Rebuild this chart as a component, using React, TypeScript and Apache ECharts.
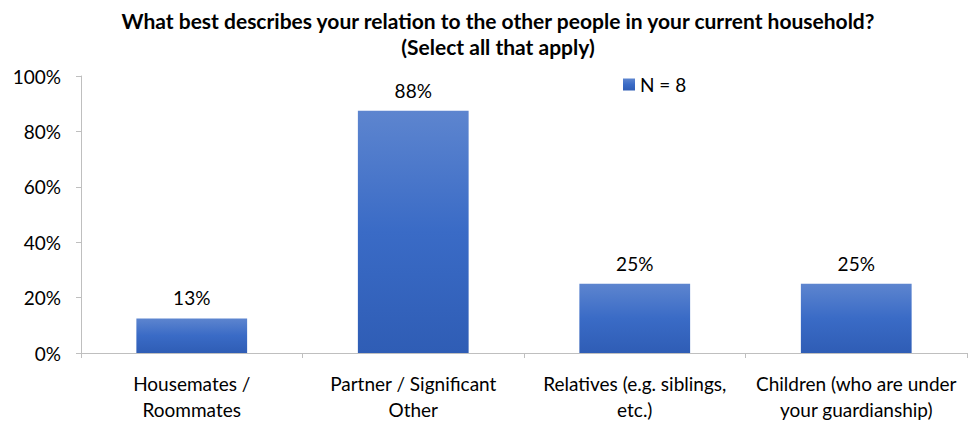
import React, { useEffect, useRef } from "react";
import * as echarts from "echarts";

const categories = [
  "Housemates /\nRoommates",
  "Partner / Significant\nOther",
  "Relatives (e.g. siblings,\netc.)",
  "Children (who are under\nyour guardianship)",
];
const values = [12.5, 87.5, 25, 25];
const seriesName = "N = 8";
const titleLines = [
  "What best describes your relation to the other people in your current household?",
  "(Select all that apply)",
];

const FONT = "Lato, 'Open Sans', sans-serif";

export default function App() {
  const ref = useRef<HTMLDivElement>(null);
  useEffect(() => {
    if (!ref.current) return;
    const chart = echarts.init(ref.current, undefined, { renderer: "svg" });
    const grad = new echarts.graphic.LinearGradient(0, 0, 0, 1, [
      { offset: 0, color: "#5d85cf" },
      { offset: 0.5, color: "#3a6bc6" },
      { offset: 1, color: "#2f5db5" },
    ]);
    chart.setOption({
      animation: false,
      textStyle: { fontFamily: FONT },
      title: {
        text: titleLines.join("\n"),
        left: 498,
        textAlign: "center",
        top: 7,
        padding: 0,
        textStyle: {
          fontFamily: FONT,
          fontSize: 21,
          fontWeight: "bold",
          color: "#000",
          lineHeight: 26,
        },
      },
      legend: {
        data: [seriesName],
        left: 623,
        top: 75,
        padding: 0,
        itemWidth: 12,
        itemHeight: 12,
        itemGap: 6,
        icon: "rect",
        textStyle: { fontFamily: FONT, fontSize: 19, color: "#000" },
      },
      grid: {
        left: 81,
        right: 13,
        top: 76,
        bottom: 70,
        containLabel: false,
        outerBoundsMode: "none",
      },
      xAxis: {
        type: "category",
        data: categories,
        axisLine: { lineStyle: { color: "#bfbfbf", width: 1 } },
        axisTick: { show: true, length: 5, lineStyle: { color: "#bfbfbf" } },
        axisLabel: {
          fontFamily: FONT,
          fontSize: 19,
          color: "#000",
          lineHeight: 26,
          margin: 17,
          interval: 0,
        },
      },
      yAxis: {
        type: "value",
        min: 0,
        max: 100,
        interval: 20,
        axisLine: { show: true, lineStyle: { color: "#bfbfbf", width: 1 } },
        axisTick: { show: true, length: 5, lineStyle: { color: "#bfbfbf" } },
        splitLine: { show: false },
        axisLabel: {
          fontFamily: FONT,
          fontSize: 19,
          color: "#000",
          margin: 20,
          formatter: (v: number) => v + "%",
        },
      },
      series: [
        {
          name: seriesName,
          type: "bar",
          data: values,
          barWidth: "50%",
          itemStyle: { color: grad },
          label: {
            show: true,
            position: "top",
            distance: 11,
            fontFamily: FONT,
            fontSize: 19,
            color: "#000",
            formatter: (p: any) => Math.round(p.value) + "%",
          },
        },
      ],
    });
    return () => chart.dispose();
  }, []);
  return (
    <div
      ref={ref}
      style={{ position: "absolute", left: 0, top: 0, width: 980, height: 423 }}
    />
  );
}
